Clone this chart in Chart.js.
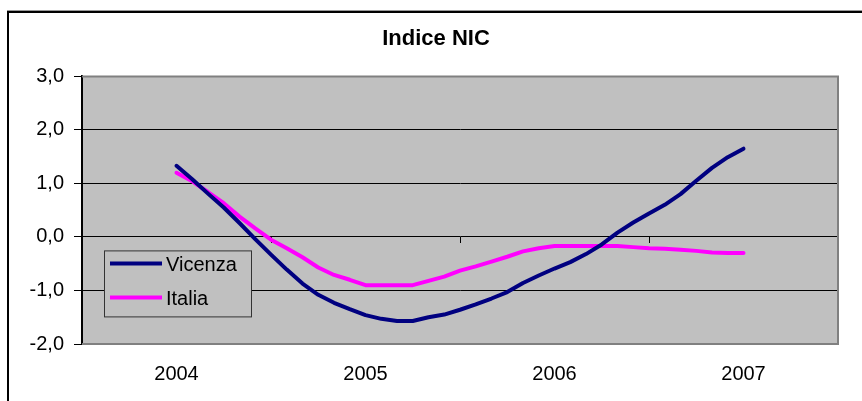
<!DOCTYPE html>
<html>
<head>
<meta charset="utf-8">
<title>Indice NIC</title>
<script src="https://cdn.jsdelivr.net/npm/chart.js@4/dist/chart.umd.min.js"></script>
<style>
  html, body { margin: 0; padding: 0; background: #fff; overflow: hidden; }
  #wrap { position: absolute; left: 0; top: 0; width: 862px; height: 401px; overflow: hidden; }
  #frame { position: absolute; left: 7px; top: 11px; width: 1000px; height: 1000px;
           border-top: 2px solid #000; border-left: 2px solid #000; box-shadow: 0 -1px 0 #999; }
  canvas { position: absolute; left: 0; top: 0; }
</style>
</head>
<body>
<div id="wrap">
  <div id="frame"></div>
  <canvas id="nicChart" width="862" height="401"></canvas>
</div>
<script>
// mesi da gennaio 2004 a gennaio 2007
const mesi = [
  'gen 2004', 'feb 2004', 'mar 2004', 'apr 2004', 'mag 2004', 'giu 2004',
  'lug 2004', 'ago 2004', 'set 2004', 'ott 2004', 'nov 2004', 'dic 2004',
  'gen 2005', 'feb 2005', 'mar 2005', 'apr 2005', 'mag 2005', 'giu 2005',
  'lug 2005', 'ago 2005', 'set 2005', 'ott 2005', 'nov 2005', 'dic 2005',
  'gen 2006', 'feb 2006', 'mar 2006', 'apr 2006', 'mag 2006', 'giu 2006',
  'lug 2006', 'ago 2006', 'set 2006', 'ott 2006', 'nov 2006', 'dic 2006',
  'gen 2007'
];

const vicenza = [
  1.33, 1.08, 0.81, 0.55, 0.26, -0.04, -0.33, -0.61, -0.87, -1.08, -1.23, -1.35,
  -1.46, -1.53, -1.57, -1.57, -1.50, -1.45, -1.36, -1.26, -1.15, -1.03, -0.86, -0.72,
  -0.59, -0.47, -0.32, -0.14, 0.08, 0.27, 0.44, 0.60, 0.80, 1.05, 1.29, 1.49,
  1.65
];

const italia = [
  1.20, 1.04, 0.84, 0.63, 0.38, 0.16, -0.05, -0.21, -0.38, -0.57, -0.71, -0.80,
  -0.90, -0.90, -0.90, -0.90, -0.82, -0.74, -0.63, -0.55, -0.46, -0.37, -0.27, -0.21,
  -0.17, -0.17, -0.17, -0.17, -0.17, -0.19, -0.21, -0.22, -0.24, -0.26, -0.29, -0.30,
  -0.30
];

const anni = [2004, 2005, 2006, 2007];
const etichetteAnni = ['2004', '2005', '2006', '2007'];
const divisioni = [2003.5, 2004.5, 2005.5, 2006.5, 2007.5];

const annoInizio = 2004;
const xMin = 2003.5, xMax = 2007.5;
const yMin = -2, yMax = 3;

Chart.defaults.font.family = '"Liberation Sans", Arial, sans-serif';
Chart.defaults.color = '#000';

function punti(serie) {
  return mesi.map((m, i) => ({ x: annoInizio + i / 12, y: serie[i] }));
}

// area del grafico grigia con bordo
const sfondo = {
  id: 'sfondo',
  beforeDraw(chart) {
    const a = chart.chartArea;
    const ctx = chart.ctx;
    ctx.save();
    ctx.fillStyle = '#C0C0C0';
    ctx.fillRect(a.left, a.top, a.width, a.height);
    ctx.restore();
  },
  beforeDatasetsDraw(chart) {
    const a = chart.chartArea;
    const ctx = chart.ctx;
    ctx.save();
    ctx.strokeStyle = '#808080';
    ctx.lineWidth = 2;
    ctx.beginPath();
    ctx.moveTo(a.left, a.top);
    ctx.lineTo(a.right, a.top);
    ctx.lineTo(a.right, a.bottom);
    ctx.lineTo(a.left, a.bottom);
    ctx.stroke();
    ctx.restore();
  }
};

// legenda dentro l'area del grafico
const legenda = {
  id: 'legenda',
  afterDatasetsDraw(chart) {
    const a = chart.chartArea;
    const ctx = chart.ctx;
    const x = a.left + 22, y = a.top + 174, w = 147, h = 66;
    ctx.save();
    ctx.fillStyle = '#C0C0C0';
    ctx.fillRect(x, y, w, h);
    ctx.strokeStyle = '#333';
    ctx.lineWidth = 1;
    ctx.strokeRect(x + 0.5, y + 0.5, w, h);
    ctx.font = '20px "Liberation Sans", Arial, sans-serif';
    ctx.textBaseline = 'middle';
    chart.data.datasets.forEach((ds, i) => {
      const ry = y + 13 + i * 34;
      ctx.strokeStyle = ds.borderColor;
      ctx.lineWidth = 4;
      ctx.beginPath();
      ctx.moveTo(x + 6, ry);
      ctx.lineTo(x + 58, ry);
      ctx.stroke();
      ctx.fillStyle = '#000';
      ctx.fillText(ds.label, x + 62, ry + 2);
    });
    ctx.restore();
  }
};

let ctx = document.getElementById('nicChart').getContext('2d');
let chart = new Chart(ctx, {
  type: 'line',
  data: {
    datasets: [
      {
        label: 'Vicenza',
        data: punti(vicenza),
        borderColor: '#000080',
        borderWidth: 4,
        pointRadius: 0,
        tension: 0,
        borderJoinStyle: 'round',
        borderCapStyle: 'round',
        fill: false
      },
      {
        label: 'Italia',
        data: punti(italia),
        borderColor: '#FF00FF',
        borderWidth: 4,
        pointRadius: 0,
        tension: 0,
        borderJoinStyle: 'round',
        borderCapStyle: 'round',
        fill: false
      }
    ]
  },
  options: {
    responsive: false,
    animation: false,
    layout: { padding: { left: 10, top: 0, right: 0, bottom: 0 } },
    plugins: {
      legend: { display: false },
      tooltip: { enabled: false },
      title: {
        display: true,
        text: 'Indice NIC',
        color: '#000',
        font: { size: 22, weight: 'bold' },
        padding: { top: 26, bottom: 24 }
      }
    },
    scales: {
      x: {
        type: 'linear',
        min: xMin,
        max: xMax,
        afterBuildTicks: s => { s.ticks = anni.map(v => ({ value: v })); },
        afterFit: s => { s.height = 57; },
        grid: { display: false, drawTicks: false },
        border: { display: false },
        ticks: {
          padding: 18,
          font: { size: 20 },
          callback: (v, i) => etichetteAnni[i]
        }
      },
      xTacche: {
        type: 'linear',
        axis: 'x',
        position: { y: 0 },
        min: xMin,
        max: xMax,
        afterBuildTicks: s => { s.ticks = divisioni.map(v => ({ value: v })); },
        grid: { drawOnChartArea: false, tickLength: 6, color: '#000' },
        border: { display: false },
        ticks: { display: false }
      },
      y: {
        min: yMin,
        max: yMax,
        afterFit: s => { s.width = 72; },
        grid: { color: '#000', tickLength: 8, tickColor: '#000' },
        border: { color: '#000', width: 2 },
        ticks: {
          stepSize: 1,
          padding: 10,
          font: { size: 20 },
          callback: v => v.toFixed(1).replace('.', ',')
        }
      },
      yDestra: {
        type: 'linear',
        axis: 'y',
        position: 'right',
        afterFit: s => { s.width = 24; },
        grid: { display: false, drawTicks: false },
        border: { display: false },
        ticks: { display: false }
      }
    }
  },
  plugins: [sfondo, legenda]
});
</script>
</body>
</html>
